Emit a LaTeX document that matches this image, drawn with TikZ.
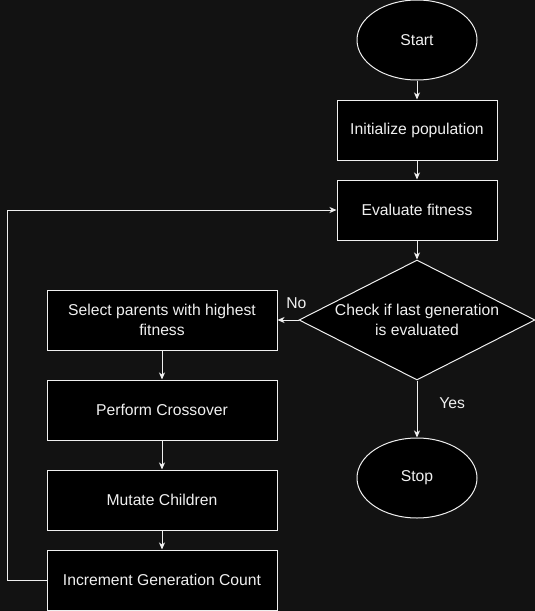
\documentclass[tikz,border=0pt]{standalone}
\usepackage{fontspec}
\setmainfont{Liberation Sans}
\usepackage{tikz}
\usetikzlibrary{shapes.geometric,arrows.meta,positioning}
\definecolor{bgclr}{HTML}{121212}
\definecolor{fgclr}{HTML}{F0F0F0}
\tikzset{
  box/.style={draw=fgclr, fill=black, text=fgclr, align=center, inner sep=0pt,
    minimum height=60pt},
  step box/.style={box, minimum width=160pt},
  left box/.style={box, minimum width=230pt},
  term/.style={box, ellipse, minimum width=120pt, minimum height=80pt},
  decision/.style={box, diamond, minimum width=236pt, minimum height=120pt},
  flow/.style={draw=fgclr, -{Stealth[length=7pt,width=6pt,inset=2pt]}},
  lbl/.style={text=fgclr, inner sep=3.33pt}
}
\begin{document}
\begin{tikzpicture}[x=1pt, y=-1pt, line width=1pt, font=\fontsize{15.7}{20}\selectfont]
    \fill[bgclr] (0,0) rectangle (535,611);
    \useasboundingbox (0,0) rectangle (535,611);

    \node[term] (start) at (417,40) {Start};
    \node[step box] (init) at (417,130) {Initialize population};
    \node[step box] (eval) at (417,210) {Evaluate fitness};
    \node[decision, label={[lbl, align=center]center:Check if last generation\\is evaluated}]
      (check) at (417,320) {};
    \node[term] (stop) at (417,478) {Stop};

    \node[left box] (select) at (162,320) {Select parents with highest\\fitness};
    \node[left box] (cross) at (162,410) {Perform Crossover};
    \node[left box] (mutate) at (162,500) {Mutate Children};
    \node[left box] (incr) at (162,580) {Increment Generation Count};
    \coordinate (loop) at (7,210);

    \draw[flow] (start) -- (init);
    \draw[flow] (init) -- (eval);
    \draw[flow] (eval) -- (check);
    \draw[flow] (check.west) -- (select.east) node[lbl, pos=0.1, above=8pt] (no) {No};
    \draw[flow] (check.south) -- (stop.north) node[lbl, pos=0.4, right=18.5pt] (yes) {Yes};
    \draw[flow] (select) -- (cross);
    \draw[flow] (cross) -- (mutate);
    \draw[flow] (mutate) -- (incr);
    \draw[flow] (incr.west) -| (loop) -- (eval.west);
\end{tikzpicture}
\end{document}
